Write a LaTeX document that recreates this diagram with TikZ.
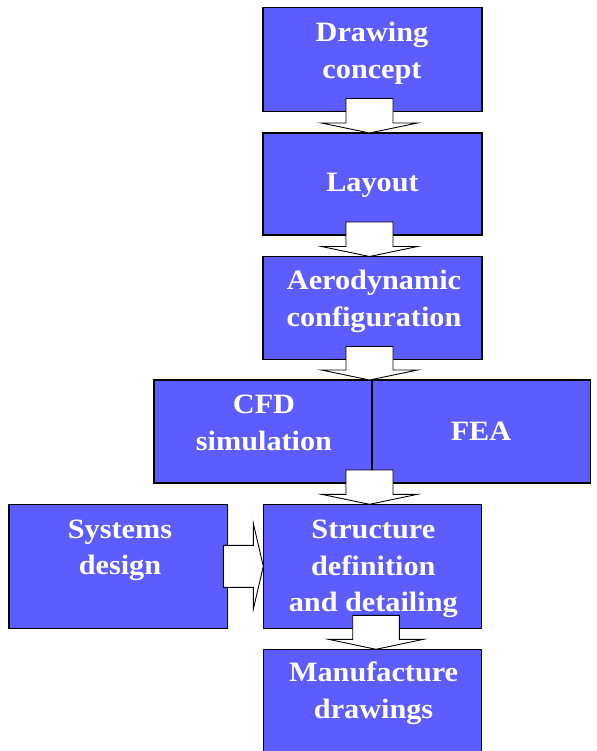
\documentclass[tikz,border=0pt]{standalone}
\usepackage{fontspec}
\setmainfont{Liberation Serif}
\newfontfamily\lblfont{Liberation Serif}[FakeStretch=1.08]
\usetikzlibrary{calc}
\definecolor{boxblue}{RGB}{92,92,255}
\tikzset{
  box/.style={draw=black, line width=1.2pt, fill=boxblue, inner sep=0pt, outer sep=0pt},
  lbl/.style={text=white, font=\lblfont\bfseries\fontsize{28}{36.5}\selectfont, align=center, anchor=base, inner sep=0pt},
  barrow/.style={draw=black, line width=0.9pt, fill=white, line join=miter}
}
% vertical block arrow: source, target, x centre, stem half width, head half width
\newcommand{\dnarrow}[5]{%
  \draw[barrow] let \p1=(#1.south), \p2=(#2.north) in
    (#3pt-#4pt,\y1+13pt) -- (#3pt-#4pt,\y2+10pt) -- (#3pt-#5pt,\y2+10pt) -- (#3pt,\y2)
    -- (#3pt+#5pt,\y2+10pt) -- (#3pt+#4pt,\y2+10pt) -- (#3pt+#4pt,\y1+13pt) -- cycle;}
\newcommand{\rtarrow}[2]{%
  \draw[barrow] let \p1=(#1.east), \p2=(#2.west) in
    (\x1-4.4pt,\y2+21pt) -- (\x2-10pt,\y2+21pt) -- (\x2-10pt,\y2+43pt) -- (\x2,\y2)
    -- (\x2-10pt,\y2-43pt) -- (\x2-10pt,\y2-21pt) -- (\x1-4.4pt,\y2-21pt) -- cycle;}
\begin{document}
\begin{tikzpicture}[x=1pt,y=1pt]
\clip (0,0) rectangle (596,-751);
\fill[white] (0,0) rectangle (596,-751);
% boxes
\node[box, minimum width=219pt, minimum height=104pt] (b1) at (372.5,-59.5) {};
\node[box, minimum width=219pt, minimum height=102pt] (b2) at (372.5,-184) {};
\node[box, minimum width=219pt, minimum height=103pt] (b3) at (372.5,-308) {};
\node[box, minimum width=218pt, minimum height=103pt] (cfd) at (263,-431.5) {};
\node[box, minimum width=218.5pt, minimum height=103pt] (fea) at (481.25,-431.5) {};
\node[box, minimum width=218.7pt, minimum height=124pt] (sys) at (118.35,-566.3) {};
\node[box, minimum width=218.4pt, minimum height=124pt] (str) at (372.5,-566.3) {};
\node[box, minimum width=218.4pt, minimum height=120.7pt] (man) at (372.5,-709.65) {};
% arrows
\dnarrow{b1}{b2}{369.5}{23.5}{48}
\dnarrow{b2}{b3}{369.5}{23.5}{48}
\dnarrow{b3}{cfd}{369.5}{23.5}{48}
\dnarrow{cfd}{str}{369.5}{23.5}{48}
\dnarrow{str}{man}{376}{23.3}{47.5}
\rtarrow{sys}{str}
% labels (anchor = baseline of last line)
\node[lbl] (t1) at (372,-78.3) {Drawing\\concept};
\node[lbl] (t2) at (372.5,-191.7) {Layout};
\node[lbl] (t3) at (374,-326) {Aerodynamic\\configuration};
\node[lbl] (t4) at (264,-450) {CFD\\simulation};
\node[lbl] (t5) at (481,-440) {FEA};
\node[lbl] (t6) at (120,-574.5) {Systems\\design};
\node[lbl] (t7) at (373.3,-611.5) {Structure\\definition\\and detailing};
\node[lbl] (t8) at (373.6,-718.3) {Manufacture\\drawings};
\end{tikzpicture}
\end{document}
